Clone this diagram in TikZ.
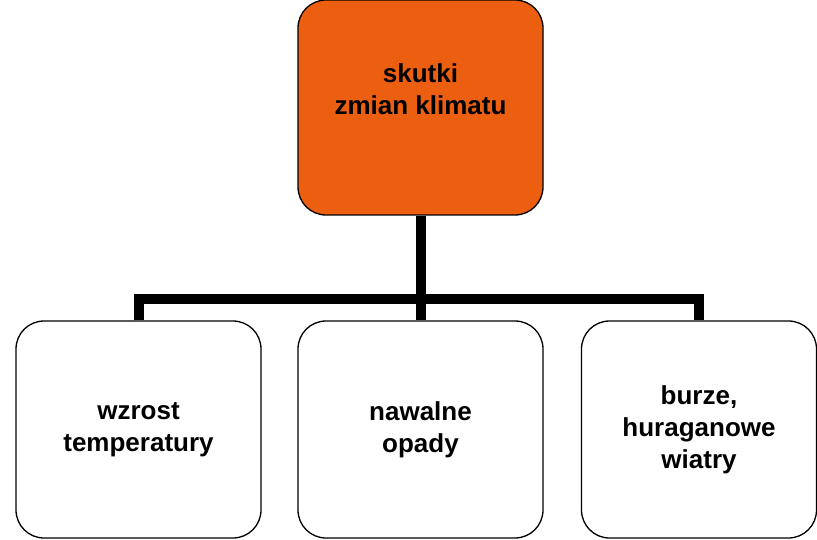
\documentclass[tikz,border=0pt]{standalone}
\usepackage{fontspec}
\setmainfont{Liberation Sans}
\usetikzlibrary{positioning, calc}
\definecolor{climorange}{HTML}{EC5E10}

\begin{document}
\begin{tikzpicture}[x=1pt, y=-1pt,
	effectbox/.style={draw, line width=1.3pt, rounded corners=28pt, minimum width=245pt, minimum height=217pt, align=center, font=\fontsize{26}{32}\selectfont\bfseries, inner sep=0pt},
	link/.style={line width=10pt, line join=miter}]
	\useasboundingbox (0,0) rectangle (817,540);
	\node (top) [effectbox, fill=climorange, minimum height=215pt, text depth=36pt] at (420.5,107.5) {skutki\\zmian klimatu};
	\node (b1) [effectbox] at (138.5,429.5) {wzrost\\temperatury};
	\node (b2) [effectbox] at (420.5,429.5) {nawalne\\opady};
	\node (b3) [effectbox, minimum width=235pt] at (699,429.5) {burze,\\huraganowe\\wiatry};
	\coordinate (j) at (420.5,299);
	
	\draw [link] (top.south) -- (b2.north);
	\draw [link] (b1.north) |- (j) -| (b3.north);
\end{tikzpicture}
\end{document}
